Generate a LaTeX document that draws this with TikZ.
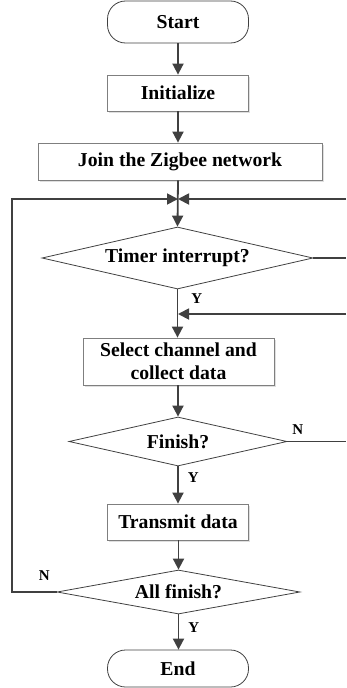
\documentclass[tikz,border=0pt]{standalone}
\usepackage{fontspec}
\setmainfont{Liberation Serif}
\usetikzlibrary{shapes.geometric,arrows.meta,shadows}

\definecolor{linegray}{HTML}{404040}
\definecolor{boxgray}{HTML}{7F7F7F}

\begin{document}
\begin{tikzpicture}[x=1pt, y=-1pt,
    every node/.style={font=\fontsize{19.7}{23}\selectfont\bfseries},
    termbox/.style={draw=linegray, line width=0.8pt, rounded corners=18pt, minimum width=141pt, inner sep=0pt},
    procbox/.style={draw=boxgray, line width=0.8pt, fill=white, inner sep=0pt, align=center,
        drop shadow={shadow xshift=1.5pt, shadow yshift=-1.5pt, opacity=0.25}},
    decbox/.style={draw=linegray, line width=0.8pt, diamond, aspect=4, inner sep=0pt},
    flow/.style={draw=linegray, line width=1.8pt, -{Triangle[length=11pt,width=11pt]}},
    plain/.style={draw=linegray, line width=1.8pt},
    yn/.style={font=\fontsize{15}{18}\selectfont\bfseries, inner sep=1pt}]
    \useasboundingbox (0,0) rectangle (346,688);

    % Start / End
    \node[termbox, minimum height=42pt] (start) at (178,22) {Start};
    \node[termbox, minimum height=37pt] (finend) at (178,668.5) {End};

    % Processing steps
    \node[procbox, minimum width=141pt, minimum height=36pt] (init) at (178,93) {Initialize};
    \node[procbox, minimum width=284pt, minimum height=37pt] (join) at (180,161.5) {Join the Zigbee network};
    \node[procbox, minimum width=191pt, minimum height=47pt] (select) at (178.5,361.5) {Select channel and\\collect data};
    \node[procbox, minimum width=141pt, minimum height=36pt] (send) at (178,522) {Transmit data};

    % Decisions
    \node[decbox, minimum width=271pt, minimum height=62pt] (timer) at (177.5,258) {Timer interrupt?};
    \node[decbox, minimum width=218pt, minimum height=49pt] (fin) at (178,441.5) {Finish?};
    \node[decbox, minimum width=243pt, minimum height=44pt] (allfin) at (178.5,592) {All finish?};

    % Junctions and open ends at the right border
    \coordinate (j1) at (178,199);
    \coordinate (j2) at (178,314);
    \coordinate (r1) at (346,199);
    \coordinate (r2) at (346,258);
    \coordinate (r3) at (346,314);
    \coordinate (r4) at (346,441.5);

    % Main flow
    \draw[flow] (start) -- (init);
    \draw[flow] (init.south) -- (init.south |- join.north);
    \draw[flow] (join.south -| j1) -- (timer.north);
    \draw[flow] (timer.south) -- node[yn, pos=0, anchor=north west, xshift=12pt, yshift=-2pt] {Y} (select.north -| timer.south);
    \draw[flow] (select.south -| fin.north) -- (fin.north);
    \draw[flow] (fin.south) -- node[yn, pos=0, anchor=north west, xshift=8pt, yshift=-4pt] {Y} (send.north -| fin.south);
    \draw[flow] (send.south -| allfin.north) -- (allfin.north);
    \draw[flow] (allfin.south) -- node[yn, pos=0, anchor=north west, xshift=8pt, yshift=-6pt] {Y} (finend.north -| allfin.south);

    % Loops
    \draw[flow] (allfin.west) -- node[yn, pos=0, anchor=south east, xshift=-5pt, yshift=10pt] {N} (12,592) -- (12,199) -- (j1);
    \draw[flow] (r1) -- (j1);
    \draw[plain] (timer.east) -- (r2);
    \draw[flow] (r3) -- (j2);
    \draw[plain] (fin.east) -- node[yn, pos=0, anchor=south west, xshift=3pt, yshift=5pt] {N} (r4);
\end{tikzpicture}
\end{document}
